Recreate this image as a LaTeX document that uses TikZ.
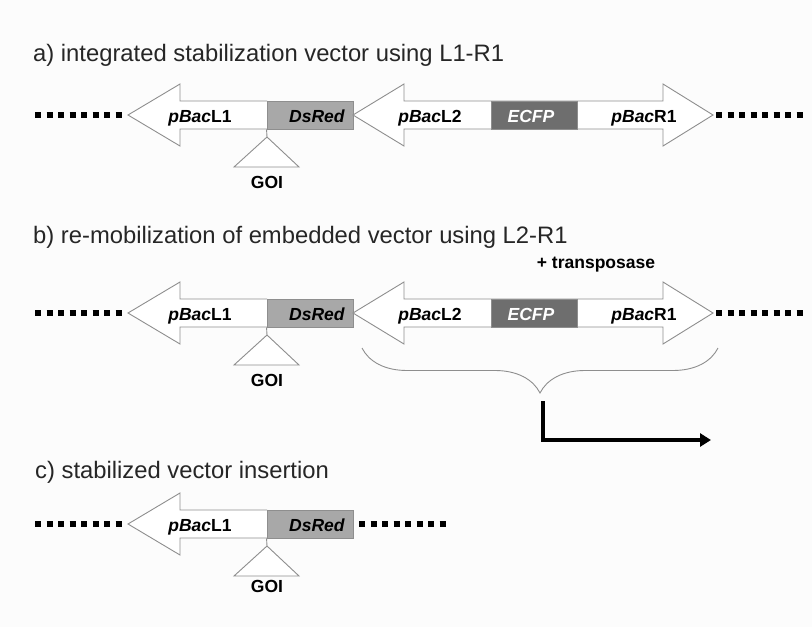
\documentclass[tikz,border=0pt]{standalone}
\usepackage{fontspec}
\setmainfont{Liberation Sans}
\usetikzlibrary{decorations.pathreplacing,arrows.meta}
\definecolor{outl}{HTML}{8E8E8E}
\definecolor{dsred}{HTML}{A8A8A8}
\definecolor{ecfp}{HTML}{6E6E6E}
\definecolor{bgc}{HTML}{FCFCFC}
\begin{document}
\begin{tikzpicture}[x=1pt,y=-1pt,
  outline/.style={draw=outl,line width=0.9pt,line join=miter},
  lbl/.style={font=\fontsize{17.5}{20}\selectfont\bfseries,anchor=base,inner sep=0pt},
  titletext/.style={font=\fontsize{23.8}{27}\selectfont,anchor=base west,inner sep=0pt,text=black!85},
  dotline/.style={line width=5.5pt,dash pattern=on 6pt off 5.5pt,black},
  gbox/.style={outline,minimum width=86pt,minimum height=28pt,inner sep=0pt},
]
\fill[bgc] (0,0) rectangle (812,627);
\useasboundingbox (0,0) rectangle (812,627);

% titles
\node[titletext] (ta) at (33,61) {a) integrated stabilization vector using L1-R1};
\node[titletext] (tb) at (33,243) {b) re-mobilization of embedded vector using L2-R1};
\node[titletext] (tc) at (35,478) {c) stabilized vector insertion};

% ---------- row a ----------
\begin{scope}[shift={(0,115)}]
  \coordinate (aL0) at (35,0); \coordinate (aL1) at (122,0);
  \coordinate (aR0) at (716,0); \coordinate (aR1) at (803,0);
  \draw[dotline] (aL0) -- (aL1);
  \draw[dotline] (aR0) -- (aR1);
  \draw[outline,fill=white] (267,-14) -- (180,-14) -- (180,-31) -- (128,0) -- (180,31) -- (180,14) -- (267,14);
  \node[gbox,fill=dsred] (dsA) at (310,0) {};
  \draw[outline,fill=white] (353,0) -- (404,-31) -- (404,-14) -- (663,-14) -- (663,-31) -- (713,0)
     -- (663,31) -- (663,14) -- (404,14) -- (404,31) -- cycle;
  \node[gbox,fill=ecfp] (ecA) at (534,0) {};
  \node[lbl] (l1A) at (200,7) {\textit{pBac}L1};
  \node[lbl] (dsAt) at (317,7) {\textit{DsRed}};
  \node[lbl] (l2A) at (430,7) {\textit{pBac}L2};
  \node[lbl,text=white] (ecAt) at (531,7) {\textit{ECFP}};
  \node[lbl] (r1A) at (644,7) {\textit{pBac}R1};
  \coordinate (gA) at (267,22);
  \draw[outline] (dsA.south west) -- (gA);
  \draw[outline,fill=white] (gA) -- (234,52) -- (299,52) -- cycle;
  \node[lbl] (goiA) at (267,73) {GOI};
\end{scope}

% ---------- row b ----------
\node[lbl] (trans) at (596,268) {+ transposase};
\begin{scope}[shift={(0,313)}]
  \coordinate (bL0) at (35,0); \coordinate (bL1) at (122,0);
  \coordinate (bR0) at (716,0); \coordinate (bR1) at (803,0);
  \draw[dotline] (bL0) -- (bL1);
  \draw[dotline] (bR0) -- (bR1);
  \draw[outline,fill=white] (267,-14) -- (180,-14) -- (180,-31) -- (128,0) -- (180,31) -- (180,14) -- (267,14);
  \node[gbox,fill=dsred] (dsB) at (310,0) {};
  \draw[outline,fill=white] (353,0) -- (404,-31) -- (404,-14) -- (663,-14) -- (663,-31) -- (713,0)
     -- (663,31) -- (663,14) -- (404,14) -- (404,31) -- cycle;
  \node[gbox,fill=ecfp] (ecB) at (534,0) {};
  \node[lbl] (l1B) at (200,7) {\textit{pBac}L1};
  \node[lbl] (dsBt) at (317,7) {\textit{DsRed}};
  \node[lbl] (l2B) at (430,7) {\textit{pBac}L2};
  \node[lbl,text=white] (ecBt) at (531,7) {\textit{ECFP}};
  \node[lbl] (r1B) at (644,7) {\textit{pBac}R1};
  \coordinate (gB) at (267,22);
  \draw[outline] (dsB.south west) -- (gB);
  \draw[outline,fill=white] (gB) -- (234,52) -- (299,52) -- cycle;
  \node[lbl] (goiB) at (267,73) {GOI};
  \coordinate (brL) at (362,35); \coordinate (brR) at (718,35);
  \draw[outline,decorate,decoration={brace,mirror,amplitude=45pt,aspect=0.5}] (brL) -- (brR);
  \coordinate (c0) at (543,88); \coordinate (c1) at (711,127);
  \draw[line width=3.5pt,line join=miter,-{Triangle[length=11pt,width=13pt]}] (c0) |- (c1);
\end{scope}

% ---------- row c ----------
\begin{scope}[shift={(0,524)}]
  \coordinate (cL0) at (35,0); \coordinate (cL1) at (122,0);
  \coordinate (cR0) at (359,0); \coordinate (cR1) at (446,0);
  \draw[dotline] (cL0) -- (cL1);
  \draw[dotline] (cR0) -- (cR1);
  \draw[outline,fill=white] (267,-14) -- (180,-14) -- (180,-31) -- (128,0) -- (180,31) -- (180,14) -- (267,14);
  \node[gbox,fill=dsred] (dsC) at (310,0) {};
  \node[lbl] (l1C) at (200,7) {\textit{pBac}L1};
  \node[lbl] (dsCt) at (317,7) {\textit{DsRed}};
  \coordinate (gC) at (267,22);
  \draw[outline] (dsC.south west) -- (gC);
  \draw[outline,fill=white] (gC) -- (234,52) -- (299,52) -- cycle;
  \node[lbl] (goiC) at (267,68) {GOI};
\end{scope}
\end{tikzpicture}
\end{document}
